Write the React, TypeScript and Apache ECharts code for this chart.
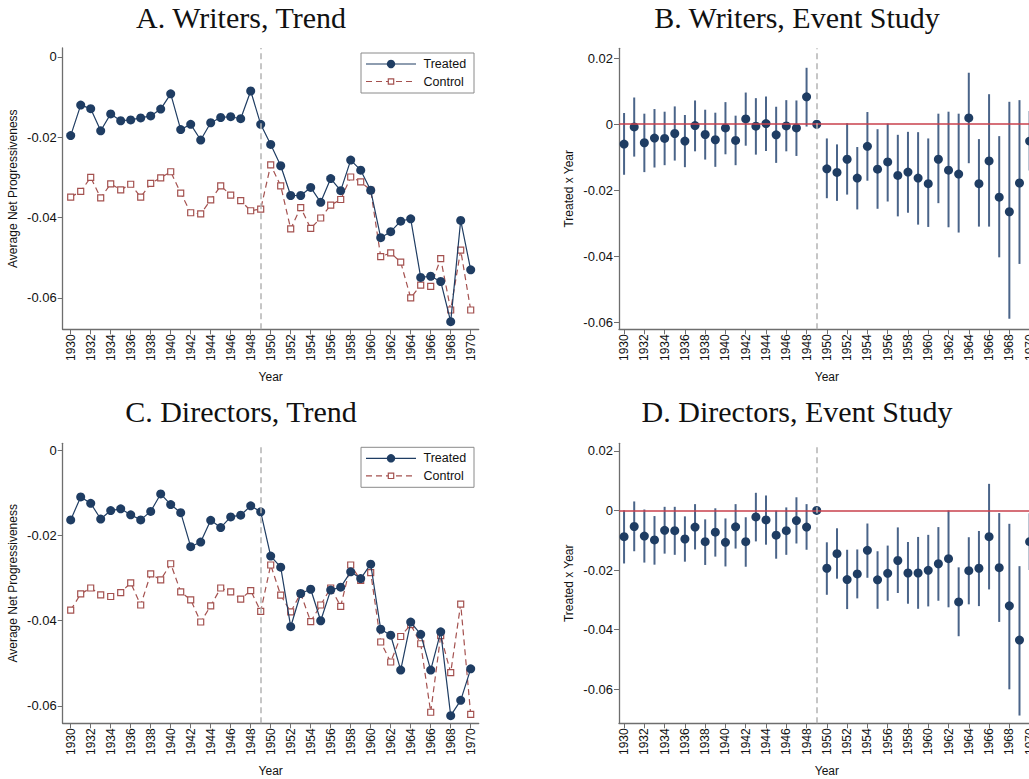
import React, { useEffect, useRef } from "react";
import * as echarts from "echarts";

// Years covered by every panel
const years: number[] = Array.from({ length: 41 }, (_, i) => 1930 + i);
const yearTicks: number[] = years.filter((y) => y % 2 === 0);

// Panel A: writers, average net progressiveness
const writersTreated: number[] = [
  -0.0196, -0.0120, -0.0129, -0.0184, -0.0142, -0.0159, -0.0157, -0.0152, -0.0147, -0.0130,
  -0.0092, -0.0181, -0.0168, -0.0207, -0.0164, -0.0151, -0.0149, -0.0154, -0.0085, -0.0168,
  -0.0218, -0.0271, -0.0345, -0.0345, -0.0325, -0.0362, -0.0303, -0.0333, -0.0257, -0.0282,
  -0.0332, -0.0450, -0.0435, -0.0409, -0.0403, -0.0549, -0.0546, -0.0559, -0.0659, -0.0407,
  -0.0530,
];
const writersControl: number[] = [
  -0.0349, -0.0335, -0.0300, -0.0351, -0.0316, -0.0331, -0.0317, -0.0349, -0.0315, -0.0301,
  -0.0286, -0.0339, -0.0388, -0.0391, -0.0356, -0.0321, -0.0344, -0.0358, -0.0383, -0.0379,
  -0.0269, -0.0321, -0.0428, -0.0375, -0.0427, -0.0401, -0.0369, -0.0355, -0.0299, -0.0311,
  -0.0332, -0.0497, -0.0488, -0.0511, -0.0600, -0.0568, -0.0571, -0.0502, -0.0630, -0.0481,
  -0.0630,
];

// Panel C: directors, average net progressiveness
const directorsTreated: number[] = [
  -0.0163, -0.0109, -0.0124, -0.0161, -0.0141, -0.0137, -0.0151, -0.0163, -0.0143, -0.0102,
  -0.0127, -0.0146, -0.0226, -0.0215, -0.0164, -0.0181, -0.0156, -0.0152, -0.0130, -0.0144,
  -0.0248, -0.0274, -0.0414, -0.0336, -0.0326, -0.0400, -0.0328, -0.0321, -0.0285, -0.0301,
  -0.0267, -0.0420, -0.0434, -0.0516, -0.0403, -0.0432, -0.0516, -0.0426, -0.0623, -0.0587,
  -0.0513,
];
const directorsControl: number[] = [
  -0.0375, -0.0337, -0.0323, -0.0339, -0.0343, -0.0334, -0.0311, -0.0363, -0.0290, -0.0304,
  -0.0266, -0.0332, -0.0351, -0.0403, -0.0365, -0.0323, -0.0332, -0.0349, -0.0329, -0.0378,
  -0.0269, -0.0340, -0.0379, -0.0336, -0.0402, -0.0363, -0.0323, -0.0366, -0.0269, -0.0305,
  -0.0287, -0.0450, -0.0497, -0.0437, -0.0409, -0.0454, -0.0615, -0.0435, -0.0522, -0.0361,
  -0.0620,
];

// Panel B: writers event study (coefficient, lower and upper bound); 1949 is the reference year
const writersCoef: number[] = [
  -0.0060, -0.0008, -0.0056, -0.0042, -0.0043, -0.0028, -0.0051, -0.0004, -0.0031, -0.0047,
  -0.0011, -0.0049, 0.0016, -0.0006, 0.0002, -0.0032, -0.0005, -0.0011, 0.0083, 0,
  -0.0135, -0.0146, -0.0106, -0.0163, -0.0067, -0.0136, -0.0114, -0.0155, -0.0145, -0.0163,
  -0.0180, -0.0106, -0.0139, -0.0151, 0.0019, -0.0180, -0.0111, -0.0221, -0.0265, -0.0178,
  -0.0051,
];
const writersLo: (number | null)[] = [
  -0.0153, -0.0098, -0.0145, -0.0131, -0.0124, -0.0110, -0.0130, -0.0082, -0.0107, -0.0129,
  -0.0091, -0.0124, -0.0065, -0.0092, -0.0081, -0.0117, -0.0082, -0.0096, -0.0007, null,
  -0.0224, -0.0232, -0.0213, -0.0258, -0.0171, -0.0256, -0.0234, -0.0279, -0.0268, -0.0304,
  -0.0311, -0.0239, -0.0312, -0.0328, -0.0118, -0.0310, -0.0310, -0.0403, -0.0589, -0.0423,
  -0.0140,
];
const writersHi: (number | null)[] = [
  0.0034, 0.0081, 0.0032, 0.0046, 0.0038, 0.0054, 0.0028, 0.0072, 0.0044, 0.0035,
  0.0067, 0.0026, 0.0096, 0.0079, 0.0084, 0.0053, 0.0073, 0.0072, 0.0171, null,
  -0.0043, -0.0061, 0.0003, -0.0069, 0.0037, -0.0015, 0.0002, -0.0032, -0.0023, -0.0024,
  -0.0043, 0.0032, 0.0038, 0.0032, 0.0156, -0.0045, 0.0091, -0.0036, 0.0068, 0.0073,
  0.0040,
];

// Panel D: directors event study
const directorsCoef: number[] = [
  -0.0088, -0.0054, -0.0086, -0.0099, -0.0067, -0.0068, -0.0096, -0.0056, -0.0105, -0.0073,
  -0.0107, -0.0055, -0.0105, -0.0022, -0.0032, -0.0083, -0.0068, -0.0034, -0.0056, 0,
  -0.0194, -0.0145, -0.0232, -0.0213, -0.0134, -0.0233, -0.0211, -0.0168, -0.0210, -0.0210,
  -0.0201, -0.0179, -0.0162, -0.0307, -0.0202, -0.0194, -0.0088, -0.0192, -0.0320, -0.0435,
  -0.0105,
];
const directorsLo: (number | null)[] = [
  -0.0178, -0.0137, -0.0175, -0.0182, -0.0145, -0.0149, -0.0172, -0.0131, -0.0183, -0.0155,
  -0.0188, -0.0128, -0.0189, -0.0104, -0.0115, -0.0162, -0.0149, -0.0111, -0.0132, null,
  -0.0283, -0.0229, -0.0331, -0.0295, -0.0226, -0.0330, -0.0303, -0.0277, -0.0313, -0.0330,
  -0.0322, -0.0303, -0.0325, -0.0422, -0.0315, -0.0321, -0.0265, -0.0374, -0.0600, -0.0688,
  -0.0200,
];
const directorsHi: (number | null)[] = [
  0.0000, 0.0030, 0.0003, -0.0019, 0.0012, 0.0012, -0.0020, 0.0021, -0.0030, 0.0007,
  -0.0027, 0.0021, -0.0023, 0.0059, 0.0050, -0.0001, 0.0010, 0.0044, 0.0021, null,
  -0.0107, -0.0060, -0.0132, -0.0131, -0.0044, -0.0137, -0.0118, -0.0057, -0.0106, -0.0089,
  -0.0082, -0.0056, 0.0000, -0.0191, -0.0090, -0.0069, 0.0089, -0.0009, -0.0045, -0.0187,
  -0.0010,
];

const trendTicks: number[] = [0, -0.02, -0.04, -0.06];
const studyTicks: number[] = [0.02, 0, -0.02, -0.04, -0.06];

const panelTitles: string[] = [
  "A. Writers, Trend",
  "B. Writers, Event Study",
  "C. Directors, Trend",
  "D. Directors, Event Study",
];
const legendNames: string[] = ["Treated", "Control"];

const NAVY = "#1f3d63";
const BAR = "#4a6489";
const BROWN = "#a4514f";
const AXIS = "#6e6e6e";
const SANS = "'Liberation Sans', Arial, Helvetica, sans-serif";
const SERIF = "'Liberation Serif', 'DejaVu Serif', serif";

function pairs(values: number[]): number[][] {
  return years.map((y, i) => [y, values[i]]);
}

function bounds(lo: (number | null)[], hi: (number | null)[]): number[][] {
  const out: number[][] = [];
  years.forEach((y, i) => {
    const l = lo[i];
    const h = hi[i];
    if (l !== null && h !== null) out.push([y, l, h]);
  });
  return out;
}

function xAxisFor(gridIndex: number, min: number, max: number) {
  return {
    type: "value" as const,
    gridIndex,
    min,
    max,
    name: "Year",
    nameLocation: "middle" as const,
    nameGap: 42,
    nameTextStyle: { fontFamily: SANS, fontSize: 12, color: "#111" },
    splitLine: { show: false },
    axisLine: { show: true, onZero: false, lineStyle: { color: AXIS, width: 1.3 } },
    axisTick: { show: true, length: 5, customValues: yearTicks, lineStyle: { color: AXIS, width: 1 } },
    axisLabel: {
      customValues: yearTicks,
      rotate: 90,
      margin: 5,
      fontFamily: SANS,
      fontSize: 12,
      color: "#111",
      formatter: (v: number) => String(Math.round(v)),
    },
  };
}

function yAxisFor(gridIndex: number, min: number, max: number, ticks: number[], name: string) {
  return {
    type: "value" as const,
    gridIndex,
    min,
    max,
    name,
    nameLocation: "middle" as const,
    nameGap: 44,
    nameTextStyle: { fontFamily: SANS, fontSize: 12, color: "#111" },
    splitLine: { show: false },
    axisLine: { show: true, onZero: false, lineStyle: { color: AXIS, width: 1.3 } },
    axisTick: { show: true, length: 5, customValues: ticks, lineStyle: { color: AXIS, width: 1 } },
    axisLabel: {
      customValues: ticks,
      margin: 6,
      fontFamily: SANS,
      fontSize: 13,
      color: "#111",
      formatter: (v: number) => (Math.abs(v) < 1e-9 ? "0" : String(Math.round(v * 100) / 100)),
    },
  };
}

const policyLine = {
  silent: true,
  symbol: "none",
  label: { show: false },
  lineStyle: { color: "#b4b4b4", type: [6, 4] as number[], width: 1.5 },
  data: [{ xAxis: 1949 }],
};

function trendSeries(axisIndex: number, treated: number[], control: number[]) {
  return [
    {
      name: "Control",
      type: "line" as const,
      xAxisIndex: axisIndex,
      yAxisIndex: axisIndex,
      data: pairs(control),
      symbol: "rect",
      symbolSize: 6,
      itemStyle: { color: "#ffffff", borderColor: BROWN, borderWidth: 1.2 },
      lineStyle: { color: BROWN, width: 1.2, type: [6, 4] as number[] },
      z: 3,
      markLine: policyLine,
    },
    {
      name: "Treated",
      type: "line" as const,
      xAxisIndex: axisIndex,
      yAxisIndex: axisIndex,
      data: pairs(treated),
      symbol: "circle",
      symbolSize: 9,
      itemStyle: { color: NAVY, borderColor: NAVY, borderWidth: 0 },
      lineStyle: { color: NAVY, width: 1.2 },
      z: 4,
    },
  ];
}

function studySeries(axisIndex: number, coef: number[], lo: (number | null)[], hi: (number | null)[]) {
  return [
    {
      name: "CI",
      type: "custom" as const,
      xAxisIndex: axisIndex,
      yAxisIndex: axisIndex,
      data: bounds(lo, hi),
      encode: { x: 0, y: [1, 2] },
      renderItem: (_params: any, api: any) => {
        const x = api.value(0);
        const p1 = api.coord([x, api.value(1)]);
        const p2 = api.coord([x, api.value(2)]);
        return {
          type: "line",
          shape: { x1: p1[0], y1: p1[1], x2: p2[0], y2: p2[1] },
          style: { stroke: BAR, lineWidth: 2 },
        };
      },
      z: 2,
      markLine: {
        silent: true,
        symbol: "none",
        label: { show: false },
        data: [
          { yAxis: 0, lineStyle: { color: "#c9404c", type: "solid", width: 1.5 } },
          { xAxis: 1949, lineStyle: { color: "#b4b4b4", type: [6, 4], width: 1.5 } },
        ],
      },
    },
    {
      name: "Coefficient",
      type: "scatter" as const,
      xAxisIndex: axisIndex,
      yAxisIndex: axisIndex,
      data: pairs(coef),
      symbol: "circle",
      symbolSize: 9,
      itemStyle: { color: NAVY, opacity: 1 },
      z: 4,
    },
  ];
}

// Boxed key for a trend panel: solid line with filled dot, dashed line with hollow square
function legendBox(top: number) {
  const left = 361;
  const rowA = top + 11;
  const rowB = top + 28.5;
  const textStyle = { fontFamily: SANS, fontSize: 12.5, fill: "#111", textVerticalAlign: "middle" };
  return {
    type: "group",
    z: 100,
    children: [
      {
        type: "rect",
        shape: { x: left, y: top, width: 113, height: 40 },
        style: { fill: "#ffffff", stroke: "#8a8a8a", lineWidth: 1 },
      },
      {
        type: "line",
        shape: { x1: left + 5, y1: rowA, x2: left + 55, y2: rowA },
        style: { stroke: NAVY, lineWidth: 1.2 },
      },
      { type: "circle", shape: { cx: left + 30, cy: rowA, r: 4.2 }, style: { fill: NAVY } },
      {
        type: "text",
        x: left + 62.5,
        y: rowA,
        style: { ...textStyle, text: legendNames[0] },
      },
      {
        type: "line",
        shape: { x1: left + 5, y1: rowB, x2: left + 55, y2: rowB },
        style: { stroke: BROWN, lineWidth: 1.2, lineDash: [6, 4] },
      },
      {
        type: "rect",
        shape: { x: left + 27.3, y: rowB - 2.7, width: 5.4, height: 5.4 },
        style: { fill: "#ffffff", stroke: BROWN, lineWidth: 1.2 },
      },
      {
        type: "text",
        x: left + 62.5,
        y: rowB,
        style: { ...textStyle, text: legendNames[1] },
      },
    ],
  };
}

export default function App() {
  const ref = useRef<HTMLDivElement>(null);

  useEffect(() => {
    if (!ref.current) return;
    const chart = echarts.init(ref.current, undefined, { renderer: "svg" });

    const titleAnchors = [
      [241, 2],
      [797, 2],
      [241, 396.5],
      [797, 396.5],
    ];

    const titles = panelTitles.map((t, i) => ({
      type: "text",
      x: titleAnchors[i][0],
      y: titleAnchors[i][1],
      style: {
        text: t,
        fontFamily: SERIF,
        fontSize: 30,
        fill: "#111",
        textAlign: "center",
        textVerticalAlign: "top",
      },
    }));

    chart.setOption({
      animation: false,
      backgroundColor: "#ffffff",
      grid: [
        { left: 62.7, top: 48, width: 416, height: 281.3, outerBoundsMode: "none" },
        { left: 619, top: 48.3, width: 415.7, height: 281, outerBoundsMode: "none" },
        { left: 62.7, top: 443.3, width: 416, height: 280, outerBoundsMode: "none" },
        { left: 619, top: 443.3, width: 415.7, height: 280, outerBoundsMode: "none" },
      ],
      xAxis: [
        xAxisFor(0, 1929.2, 1970.8),
        xAxisFor(1, 1929.5, 1970.5),
        xAxisFor(2, 1929.2, 1970.8),
        xAxisFor(3, 1929.5, 1970.5),
      ],
      yAxis: [
        yAxisFor(0, -0.0678, 0.0022, trendTicks, "Average Net Progressiveness"),
        yAxisFor(1, -0.0621, 0.023, studyTicks, "Treated x Year"),
        yAxisFor(2, -0.0641, 0.0017, trendTicks, "Average Net Progressiveness"),
        yAxisFor(3, -0.0714, 0.0225, studyTicks, "Treated x Year"),
      ],
      graphic: [...titles, legendBox(53), legendBox(447.3)],
      series: [
        ...trendSeries(0, writersTreated, writersControl),
        ...studySeries(1, writersCoef, writersLo, writersHi),
        ...trendSeries(2, directorsTreated, directorsControl),
        ...studySeries(3, directorsCoef, directorsLo, directorsHi),
      ],
    });

    return () => chart.dispose();
  }, []);

  return (
    <div
      ref={ref}
      style={{ position: "fixed", left: 0, top: 0, width: 1029, height: 779, overflow: "hidden" }}
    />
  );
}
